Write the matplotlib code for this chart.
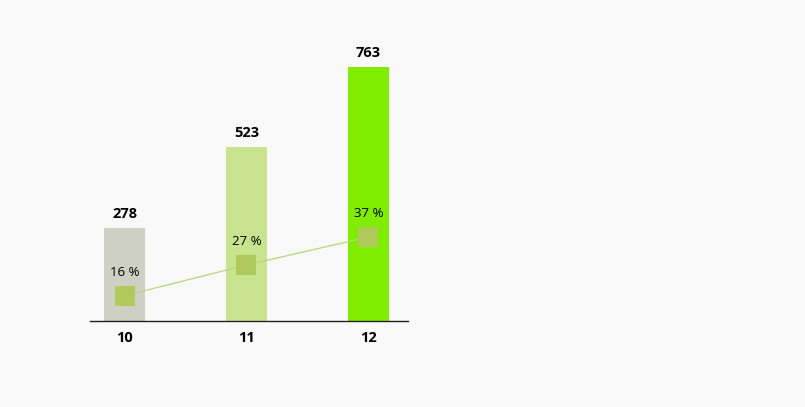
import matplotlib.pyplot as plt

# data
years = ["10", "11", "12"]
totals = [278, 523, 763]
shares = [16, 27, 37]
bar_colors = ["#cdd0c3", "#c8e48f", "#80ec00"]

plt.rcParams["font.family"] = ["Open Sans", "DejaVu Sans"]

fig = plt.figure(figsize=(8.05, 4.07), dpi=100, facecolor="#f9f9f9")
ax = fig.add_axes([90 / 805, (407 - 321) / 407, 318 / 805, 281 / 407])
ax.set_facecolor("none")

x = list(range(len(years)))
ax.bar(x, totals, width=0.336, color=bar_colors, zorder=1)
for xi, v in zip(x, totals):
    ax.text(xi, v + 22, str(v), ha="center", va="bottom", fontsize=10.5,
            fontweight="bold", color="#000000")

ax.set_xlim(-0.283, 2.324)
ax.set_ylim(0, 281 / 0.333)
ax.set_xticks(x)
ax.set_xticklabels(years, fontsize=10.5, fontweight="bold", color="#000000")
ax.tick_params(axis="x", length=0, pad=7)
ax.set_yticks([])
for s in ["top", "right", "left"]:
    ax.spines[s].set_visible(False)
ax.spines["bottom"].set_color("#222222")
ax.spines["bottom"].set_linewidth(1)

# share line on a second scale
ax2 = ax.twinx()
ax2.set_ylim(7, 7 + 281 / 2.8)
ax2.plot(x, shares, color="#b8d67a", lw=0.9, zorder=2)
ax2.plot(x, shares, ls="none", marker="s", markersize=15,
         markerfacecolor="#afc95a", markeredgewidth=0, zorder=3)
for xi, p in zip(x, shares):
    ax2.text(xi, p + 6, f"{p} %", ha="center", va="bottom", fontsize=9.5,
             color="#000000")
ax2.set_yticks([])
for s in ["top", "right", "left", "bottom"]:
    ax2.spines[s].set_visible(False)

fig.savefig("out.png", dpi=100, facecolor=fig.get_facecolor())
